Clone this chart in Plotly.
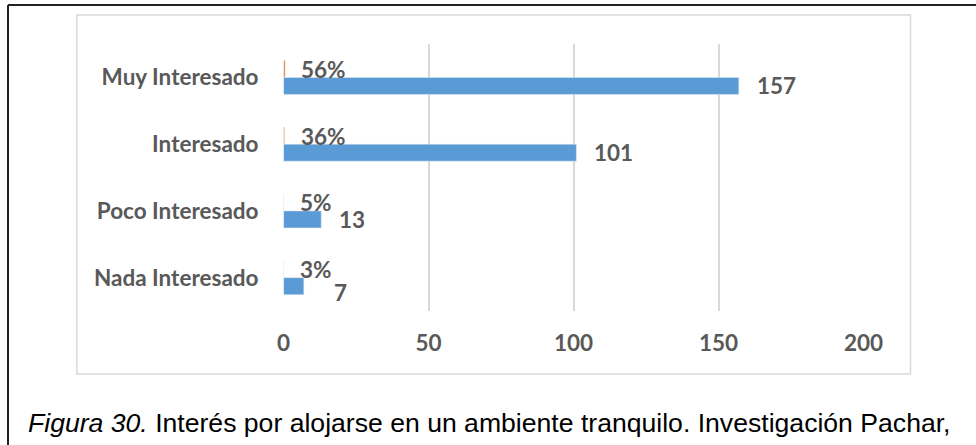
"""Interés por alojarse en un ambiente tranquilo - horizontal bar chart."""

import plotly.graph_objects as go

# data (bottom to top, as plotly draws categorical y)
categories = ["Nada Interesado", "Poco Interesado", "Interesado", "Muy Interesado"]
counts = [7, 13, 101, 157]
shares = [0.03, 0.05, 0.36, 0.56]
share_labels = ["3%", "5%", "36%", "56%"]
x_ticks = [0, 50, 100, 150, 200]

W, H = 976, 445
TEXT = "#595959"
FONT = "Lato"
FSIZE = 22.5
# the captured page comes out slightly narrower than the figure: compensate
X_OFF, X_SCALE = 7, 0.974


def px(x):
    return (x - X_OFF) / X_SCALE / W


def py(y):
    return 1 - y / H


fig = go.Figure()
fig.add_trace(
    go.Bar(
        y=categories,
        x=counts,
        orientation="h",
        marker=dict(color="#5B9BD5"),
        name="Cantidad",
    )
)
fig.add_trace(
    go.Bar(
        y=categories,
        x=shares,
        orientation="h",
        marker=dict(color="#ED7D31"),
        name="Porcentaje",
    )
)

# data labels: left aligned just after the bar end
annotations = []
for cat, val in zip(categories, counts):
    # the "7" label was nudged in the original chart
    nudge = (12, -6) if val == counts[0] else (0, 0)
    annotations.append(
        dict(
            x=val, y=cat, xref="x", yref="y",
            text=str(val), showarrow=False,
            xanchor="left", yanchor="middle",
            xshift=16 + nudge[0], yshift=-8.5 + nudge[1],
            font=dict(family=FONT, size=FSIZE, color=TEXT, weight="bold"),
        )
    )
for cat, val, lab in zip(categories, shares, share_labels):
    annotations.append(
        dict(
            x=val, y=cat, xref="x", yref="y",
            text=lab, showarrow=False,
            xanchor="left", yanchor="middle",
            xshift=14, yshift=8,
            font=dict(family=FONT, size=FSIZE, color=TEXT, weight="bold"),
        )
    )
annotations.append(
    dict(
        x=px(26), y=py(423), xref="paper", yref="paper",
        text="<i>Figura 30.</i> Interés por alojarse en un ambiente tranquilo. "
        "Investigación Pachar,",
        showarrow=False, xanchor="left", yanchor="middle",
        font=dict(family="Liberation Sans, Arial", size=26.6, color="#000000"),
    )
)

fig.update_layout(
    width=W,
    height=H,
    margin=dict(l=0, r=0, t=0, b=0),
    paper_bgcolor="white",
    plot_bgcolor="white",
    barmode="group",
    bargap=0.49,
    showlegend=False,
    annotations=annotations,
    shapes=[
        # chart area frame
        dict(
            type="rect", xref="paper", yref="paper",
            x0=px(77), x1=px(912), y0=py(374), y1=py(15),
            line=dict(color="#d9d9d9", width=1.5),
        ),
        # outer figure frame: only left and top edges are on the page
        dict(
            type="line", xref="paper", yref="paper",
            x0=px(8), x1=px(8), y0=-0.05, y1=py(5),
            line=dict(color="#222222", width=2),
        ),
        dict(
            type="line", xref="paper", yref="paper",
            x0=px(8), x1=1.05, y0=py(5), y1=py(5),
            line=dict(color="#222222", width=2),
        ),
    ],
)
fig.update_xaxes(
    domain=[px(284), px(865)],
    range=[0, 200],
    tickvals=x_ticks,
    showgrid=True,
    gridcolor="#d9d9d9",
    gridwidth=1.5,
    zeroline=False,
    showline=False,
    ticklabelstandoff=16,
    tickfont=dict(family=FONT, size=FSIZE, color=TEXT, weight="bold"),
)
fig.update_yaxes(
    domain=[py(311), py(44)],
    type="category",
    categoryorder="array",
    categoryarray=categories,
    showgrid=False,
    zeroline=False,
    showline=False,
    ticklabelstandoff=24,
    tickfont=dict(family=FONT, size=FSIZE, color=TEXT, weight="bold"),
)

fig.write_html(
    "out.html",
    config={"displayModeBar": False},
    post_script=(
        "document.body.style.margin='0';"
        "document.body.style.overflow='hidden';"
    ),
)
